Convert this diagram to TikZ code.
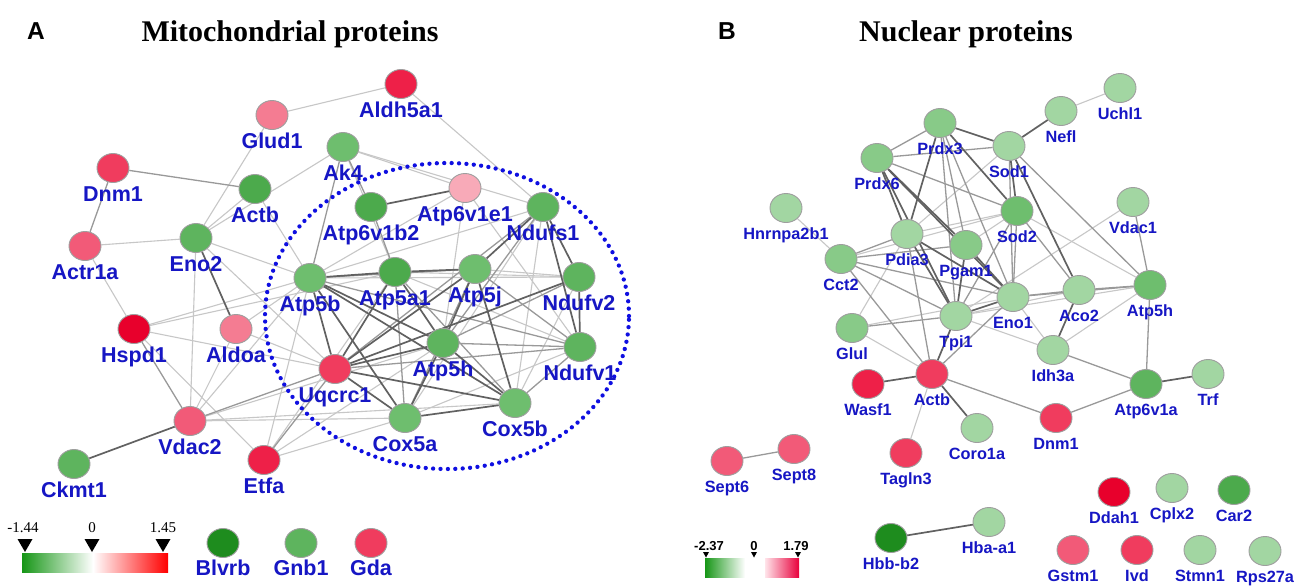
\documentclass[tikz,border=0pt]{standalone}
\usepackage{fontspec}
\setmainfont{Liberation Sans}
\newfontfamily\titlefont{Liberation Serif}
\usetikzlibrary{shapes.geometric,backgrounds}

\definecolor{lblblue}{RGB}{22,22,196}
\definecolor{dotblue}{RGB}{15,15,225}
\definecolor{hot}{RGB}{232,0,44}
\definecolor{red1}{RGB}{238,32,72}
\definecolor{red2}{RGB}{240,60,94}
\definecolor{red3}{RGB}{242,90,120}
\definecolor{red4}{RGB}{244,124,146}
\definecolor{pinkL}{RGB}{248,170,184}
\definecolor{gdark}{RGB}{30,140,30}
\definecolor{g1}{RGB}{76,170,76}
\definecolor{g2}{RGB}{94,180,94}
\definecolor{g3}{RGB}{110,190,110}
\definecolor{g4}{RGB}{136,202,136}
\definecolor{g5}{RGB}{162,214,162}

\tikzset{
  prot/.style={ellipse, draw=black!38, line width=0.9, minimum width=32, minimum height=29, inner sep=0},
  lblA/.style={text=lblblue, font=\fontsize{21.5}{25}\selectfont\bfseries, anchor=base, inner sep=0},
  lblB/.style={text=lblblue, font=\fontsize{16.3}{19}\selectfont\bfseries, anchor=base, inner sep=0},
  weak/.style={draw=black!22, line width=1.1},
  mid/.style={draw=black!40, line width=1.3},
  strong/.style={draw=black!62, line width=1.7},
}

\begin{document}
\begin{tikzpicture}[x=1pt, y=-1pt]
  \useasboundingbox (0,0) rectangle (1300,587);

  % headings
  \node[font=\fontsize{24.5}{28}\selectfont\bfseries, anchor=base] (letterA) at (36,39.3) {A};
  \node[font=\fontsize{24.5}{28}\selectfont\bfseries, anchor=base] (letterB) at (727,39.3) {B};
  \node[font=\titlefont\fontsize{30}{35}\selectfont\bfseries, anchor=base] (titleA) at (290,41) {Mitochondrial proteins};
  \node[font=\titlefont\fontsize{30}{35}\selectfont\bfseries, anchor=base] (titleB) at (966,41.5) {Nuclear proteins};

  % cluster of panel A
  \node[ellipse, draw=dotblue, line width=4.3, line cap=round, dash pattern=on 0pt off 7.4pt,
        minimum width=364, minimum height=306] (cluster) at (447,316) {};

  % panel A proteins
  \foreach \n/\x/\y/\c in {Aldh5a1/401/84/red1, Glud1/272/115/red4, Ak4/343/147/g3,
      Dnm1/113/168/red2, Actb/255/189/g1, Atp6v1e1/465/188/pinkL, Atp6v1b2/371/207/g1,
      Ndufs1/543/207/g2, Actr1a/85/246/red3, Eno2/196/238/g2, Atp5b/310/278/g3,
      Atp5a1/395/272/g1, Atp5j/475/269/g3, Ndufv2/579/277/g2, Hspd1/134/329/hot,
      Aldoa/236/329/red4, Atp5h/443/343/g2, Ndufv1/580/347/g2, Uqcrc1/335/369/red2,
      Cox5b/515/403/g3, Cox5a/405/418/g3, Vdac2/190/421/red3, Etfa/264/460/red1,
      Ckmt1/74/464/g2}
  {
    \node[prot, fill=\c] (a\n) at (\x,\y) {};
    \node[lblA] (la\n) at ([yshift=-33.5pt]a\n.center) {\n};
  }

  % panel B proteins
  \foreach \n/\x/\y/\c in {Uchl1/1120/88/g5, Nefl/1061/111/g5, Prdx3/940/123/g4,
      Sod1/1009/146/g5, Prdx6/877/158/g4, Hnrnpa2b1/786/208/g5, Sod2/1017/211/g3,
      Vdac1/1133/202/g5, Pdia3/907/234/g5, Pgam1/966/245/g4, Cct2/841/259/g4,
      Atp5h/1150/285/g3, Eno1/1013/297/g5, Aco2/1079/290/g5, Tpi1/956/316/g5,
      Glul/852/328/g4, Idh3a/1053/350/g5, Actb/932/374/red2, Wasf1/868/384/red1,
      Atp6v1a/1146/384/g2, Trf/1208/374/g5, Coro1a/977/428/g5, Dnm1/1056/418/red2,
      Sept6/727/461/red3, Sept8/794/449/red3, Tagln3/906/453/red2, Ddah1/1114/492/hot,
      Cplx2/1172/488/g5, Car2/1234/490/g1, Hbb-b2/891/538/gdark, Hba-a1/989/522/g5,
      Gstm1/1073/550/red3, Ivd/1137/550/red2, Stmn1/1200/550/g5, Rps27a/1265/551/g5}
  {
    \node[prot, fill=\c] (b\n) at (\x,\y) {};
    \node[lblB] (lb\n) at ([yshift=-31.5pt]b\n.center) {\n};
  }

  % legend A
  \shade[left color={rgb,255:red,22;green,150;blue,22}, right color=white] (22,553) rectangle (93,572);
  \shade[left color=white, right color={rgb,255:red,255;green,0;blue,0}] (93,553) rectangle (168,572);
  \foreach \t in {25,92,163}
    \fill (\t,539) ++(-7.5,0) -- ++(15,0) -- ++(-7.5,13) -- cycle;
  \foreach \v/\x in {-1.44/23, 0/92, 1.45/163}
    \node[font=\titlefont\fontsize{15}{18}\selectfont, anchor=base, inner sep=0] (nA\x) at (\x,532) {\v};
  \foreach \n/\x/\c in {Blvrb/223/gdark, Gnb1/301/g2, Gda/371/red2}
  {
    \node[prot, fill=\c] (g\n) at (\x,543) {};
    \node[lblA] (lg\n) at ([yshift=-32pt]g\n.center) {\n};
  }

  % legend B
  \shade[left color={rgb,255:red,22;green,150;blue,22}, right color=white] (705,558) rectangle (745,577);
  \shade[left color={rgb,255:red,255;green,228;blue,234}, right color={rgb,255:red,232;green,0;blue,60}] (765,558) rectangle (799,577);
  \foreach \t in {706,754,798}
    \fill (\t,552) ++(-3,0) -- ++(6,0) -- ++(-3,5.5) -- cycle;
  \foreach \v/\x in {-2.37/709, 0/754, 1.79/796}
    \node[font=\fontsize{13}{15}\selectfont\bfseries, anchor=base, inner sep=0] (nB\x) at (\x,550) {\v};

  \begin{scope}[on background layer]
    \fill[white] (0,0) rectangle (1300,587);
    % panel A interactions
    \foreach \u/\v in {Glud1/Aldh5a1, Aldh5a1/Ndufs1, Glud1/Eno2, Actr1a/Eno2, Actr1a/Hspd1,
        Actb/Eno2, Ak4/Eno2, Actb/Atp5b, Eno2/Atp5b, Eno2/Uqcrc1, Ak4/Atp6v1e1, Ak4/Ndufs1,
        Atp6v1e1/Atp5h, Atp6v1e1/Atp5b, Ndufs1/Atp5b, Atp5b/Ndufv2, Atp5a1/Ndufv2,
        Atp5a1/Ndufv1, Atp5j/Ndufv2, Ndufv2/Cox5b, Ndufv1/Cox5a, Uqcrc1/Hspd1, Hspd1/Atp5b,
        Hspd1/Atp5a1, Vdac2/Aldoa, Vdac2/Atp5b, Vdac2/Atp5h, Vdac2/Cox5a, Vdac2/Cox5b,
        Etfa/Atp5b, Etfa/Atp5a1, Etfa/Atp5h, Etfa/Cox5a, Etfa/Hspd1, Aldoa/Atp5b,
        Aldoa/Uqcrc1, Eno2/Vdac2, Atp6v1e1/Ndufv1, Ak4/Atp5a1, Ndufs1/Cox5b, Ndufs1/Cox5a}
      \draw[weak] (a\u) -- (a\v);
    \foreach \u/\v in {Dnm1/Actb, Dnm1/Actr1a, Ak4/Atp6v1b2, Ak4/Atp5b, Atp6v1b2/Atp5a1,
        Ndufs1/Atp5h, Ndufs1/Uqcrc1, Atp5b/Atp5j, Atp5b/Ndufv1, Atp5a1/Cox5a, Atp5a1/Cox5b,
        Atp5j/Cox5a, Ndufv2/Atp5h, Ndufv1/Uqcrc1, Ndufv1/Atp5h, Uqcrc1/Vdac2, Uqcrc1/Etfa,
        Hspd1/Vdac2, Ndufv1/Cox5b, Atp5j/Ndufv1}
      \draw[mid] (a\u) -- (a\v);
    \foreach \u/\v in {Atp6v1b2/Atp6v1e1, Ndufs1/Atp5j, Ndufs1/Ndufv2, Ndufs1/Ndufv1,
        Ndufv2/Ndufv1, Atp5b/Atp5a1, Atp5a1/Atp5j, Atp5b/Uqcrc1, Atp5b/Atp5h, Atp5b/Cox5a,
        Atp5b/Cox5b, Atp5a1/Atp5h, Atp5a1/Uqcrc1, Atp5j/Atp5h, Atp5j/Uqcrc1, Atp5j/Cox5b,
        Atp5h/Uqcrc1, Atp5h/Cox5a, Atp5h/Cox5b, Uqcrc1/Cox5a, Uqcrc1/Cox5b, Cox5a/Cox5b,
        Vdac2/Ckmt1, Eno2/Aldoa, Ndufv2/Uqcrc1}
      \draw[strong] (a\u) -- (a\v);
    % panel B interactions
    \foreach \u/\v in {Uchl1/Nefl, Sod1/Pdia3, Sod2/Pdia3, Sod2/Atp5h, Vdac1/Tpi1,
        Hnrnpa2b1/Cct2, Cct2/Sod2, Eno1/Idh3a, Eno1/Glul, Tpi1/Aco2, Tpi1/Idh3a, Tpi1/Atp5h,
        Glul/Actb, Idh3a/Atp5h, Actb/Tagln3, Glul/Pdia3, Pgam1/Sod2}
      \draw[weak] (b\u) -- (b\v);
    \foreach \u/\v in {Prdx3/Prdx6, Prdx6/Sod1, Prdx3/Pgam1, Prdx3/Tpi1, Prdx3/Eno1,
        Sod1/Eno1, Sod1/Atp5h, Prdx6/Sod2, Sod2/Eno1, Sod2/Tpi1, Vdac1/Atp5h, Pdia3/Cct2,
        Pdia3/Actb, Pgam1/Cct2, Cct2/Eno1, Cct2/Tpi1, Cct2/Actb, Eno1/Aco2, Eno1/Atp5h,
        Eno1/Actb, Tpi1/Glul, Aco2/Atp5h, Idh3a/Atp6v1a, Atp5h/Atp6v1a, Atp6v1a/Dnm1,
        Actb/Dnm1, Sept6/Sept8, Sod2/Aco2}
      \draw[mid] (b\u) -- (b\v);
    \foreach \u/\v in {Nefl/Sod1, Prdx3/Sod1, Prdx3/Sod2, Prdx3/Pdia3, Sod1/Sod2, Sod1/Aco2,
        Prdx6/Pdia3, Prdx6/Tpi1, Prdx6/Pgam1, Prdx6/Eno1, Pdia3/Tpi1, Pdia3/Eno1, Pgam1/Tpi1,
        Pgam1/Eno1, Eno1/Tpi1, Aco2/Idh3a, Atp6v1a/Trf, Actb/Wasf1, Actb/Coro1a,
        Hbb-b2/Hba-a1, Tpi1/Actb}
      \draw[strong] (b\u) -- (b\v);
  \end{scope}
\end{tikzpicture}
\end{document}
